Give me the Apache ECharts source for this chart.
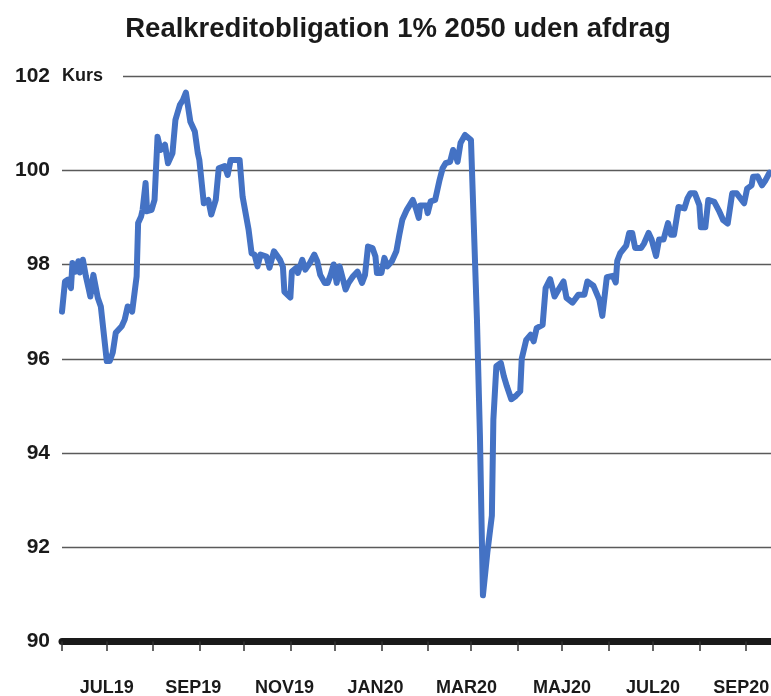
<!DOCTYPE html>
<html><head><meta charset="utf-8">
<script src="https://cdn.jsdelivr.net/npm/echarts@6/dist/echarts.min.js"></script>
<style>html,body{margin:0;padding:0;background:#fff}#c{width:771px;height:696px}</style>
</head><body><div id="c"></div>
<script>
const chartTitle = 'Realkreditobligation 1% 2050 uden afdrag';
const yUnit = 'Kurs';
const dates = [
'2019-06-01','2019-06-03','2019-06-05','2019-06-07','2019-06-08','2019-06-10','2019-06-12','2019-06-13','2019-06-15','2019-06-17',
'2019-06-19','2019-06-20','2019-06-22','2019-06-25','2019-06-27','2019-07-01','2019-07-03','2019-07-05','2019-07-07','2019-07-11',
'2019-07-13','2019-07-15','2019-07-17','2019-07-18','2019-07-21','2019-07-22','2019-07-24','2019-07-25','2019-07-27','2019-07-28',
'2019-07-31','2019-08-02','2019-08-04','2019-08-06','2019-08-09','2019-08-11','2019-08-14','2019-08-16','2019-08-19','2019-08-21',
'2019-08-23','2019-08-26','2019-08-29','2019-08-31','2019-09-01','2019-09-04','2019-09-07','2019-09-09','2019-09-12','2019-09-14',
'2019-09-18','2019-09-20','2019-09-22','2019-09-28','2019-09-30','2019-10-04','2019-10-06','2019-10-08','2019-10-10','2019-10-12',
'2019-10-16','2019-10-18','2019-10-21','2019-10-25','2019-10-27','2019-10-28','2019-11-01','2019-11-02','2019-11-05','2019-11-06',
'2019-11-09','2019-11-11','2019-11-14','2019-11-17','2019-11-19','2019-11-21','2019-11-24','2019-11-26','2019-11-28','2019-11-30',
'2019-12-02','2019-12-04','2019-12-08','2019-12-10','2019-12-13','2019-12-16','2019-12-19','2019-12-21','2019-12-23','2019-12-26',
'2019-12-28','2019-12-29','2020-01-01','2020-01-03','2020-01-05','2020-01-08','2020-01-11','2020-01-13','2020-01-15','2020-01-18',
'2020-01-22','2020-01-24','2020-01-26','2020-01-27','2020-01-31','2020-02-01','2020-02-03','2020-02-06','2020-02-09','2020-02-11',
'2020-02-13','2020-02-16','2020-02-18','2020-02-20','2020-02-21','2020-02-23','2020-02-26','2020-03-01','2020-03-03','2020-03-05',
'2020-03-07','2020-03-09','2020-03-12','2020-03-15','2020-03-16','2020-03-18','2020-03-21','2020-03-23','2020-03-25','2020-03-28',
'2020-03-31','2020-04-03','2020-04-04','2020-04-07','2020-04-10','2020-04-12','2020-04-14','2020-04-18','2020-04-20','2020-04-23',
'2020-04-26','2020-04-28','2020-05-02','2020-05-04','2020-05-08','2020-05-12','2020-05-16','2020-05-18','2020-05-22','2020-05-26',
'2020-05-28','2020-05-31','2020-06-04','2020-06-06','2020-06-07','2020-06-09','2020-06-13','2020-06-15','2020-06-17','2020-06-19',
'2020-06-23','2020-06-25','2020-06-28','2020-06-30','2020-07-03','2020-07-05','2020-07-08','2020-07-11','2020-07-13','2020-07-15',
'2020-07-18','2020-07-22','2020-07-24','2020-07-26','2020-07-29','2020-08-01','2020-08-02','2020-08-05','2020-08-07','2020-08-11',
'2020-08-14','2020-08-17','2020-08-20','2020-08-23','2020-08-26','2020-08-31','2020-09-02','2020-09-05','2020-09-06','2020-09-09',
'2020-09-12','2020-09-14','2020-09-17'
];
const kurs = [
97.0,97.64,97.68,97.5,98.03,97.85,98.07,97.83,98.1,97.75,
97.47,97.32,97.78,97.29,97.11,95.95,95.95,96.13,96.55,96.69,
96.83,97.11,97.08,97.0,97.75,98.88,99.02,99.16,99.73,99.13,
99.16,99.37,100.71,100.43,100.54,100.15,100.36,101.07,101.39,101.49,
101.65,101.03,100.82,100.36,100.22,99.30,99.37,99.06,99.37,100.04,
100.09,99.90,100.22,100.22,99.44,98.74,98.24,98.21,97.96,98.21,
98.17,97.93,98.28,98.1,97.95,97.42,97.3,97.85,97.93,97.82,
98.10,97.89,98.03,98.21,98.07,97.78,97.61,97.61,97.78,98.0,
97.61,97.96,97.47,97.61,97.75,97.85,97.61,97.78,98.38,98.35,
98.17,97.82,97.82,98.14,97.96,98.07,98.28,98.63,98.95,99.16,
99.37,99.20,98.99,99.25,99.25,99.09,99.34,99.37,99.80,100.04,
100.15,100.18,100.43,100.29,100.18,100.58,100.75,100.64,98.73,96.83,
94.36,90.98,91.9,92.67,94.71,95.84,95.91,95.63,95.42,95.14,
95.21,95.31,96.0,96.40,96.51,96.37,96.65,96.72,97.50,97.69,
97.32,97.43,97.64,97.29,97.19,97.36,97.36,97.64,97.55,97.25,
96.91,97.73,97.76,97.62,98.08,98.24,98.40,98.67,98.67,98.35,
98.35,98.45,98.67,98.53,98.18,98.53,98.53,98.88,98.63,98.63,
99.22,99.19,99.40,99.51,99.51,99.26,98.79,98.79,99.37,99.33,
99.15,98.94,98.87,99.51,99.51,99.30,99.61,99.68,99.86,99.87,
99.68,99.77,99.95
];
const yTicks = [90, 92, 94, 96, 98, 100, 102];
const tickMonths = ['2019-06-01','2019-07-01','2019-08-01','2019-09-01','2019-10-01','2019-11-01','2019-12-01','2020-01-01',
  '2020-02-01','2020-03-01','2020-04-01','2020-05-01','2020-06-01','2020-07-01','2020-08-01','2020-09-01'];
const tickLabels = ['JUL19','SEP19','NOV19','JAN20','MAR20','MAJ20','JUL20','SEP20'];
const tickLabelDates = ['2019-07-01','2019-08-28','2019-10-28','2019-12-28','2020-02-27','2020-05-01','2020-07-01','2020-08-29'];
const xStart = '2019-06-01';
const xEnd = '2020-09-18';

const ts = s => { const p = s.split('-').map(Number); return new Date(p[0], p[1]-1, p[2]).getTime(); };
const FONT = "'Liberation Sans', Arial, sans-serif";
const INK = '#1a1a1a';
const labelTs = tickLabelDates.map(ts);

const chart = echarts.init(document.getElementById('c'), null, {renderer: 'canvas'});
chart.setOption({
  backgroundColor: '#ffffff',
  animation: false,
  title: {
    text: chartTitle, left: 393, top: 10, textAlign: 'center',
    textStyle: {fontFamily: FONT, fontWeight: 'bold', fontSize: 27.5, color: INK}
  },
  grid: {left: 62, right: 0, top: 76, bottom: 54.5, containLabel: false, outerBoundsMode: 'none'},
  xAxis: {
    type: 'value',
    min: ts(xStart), max: ts(xEnd),
    axisLine: {onZero: false, lineStyle: {color: INK, width: 7}},
    axisTick: {show: true, length: 9.5, lineStyle: {color: '#333', width: 1.5}, customValues: tickMonths.map(ts)},
    axisLabel: {
      customValues: labelTs, hideOverlap: false, showMinLabel: true, showMaxLabel: true,
      margin: 38, fontFamily: FONT, fontWeight: 'bold', fontSize: 18, color: INK,
      formatter: v => { const i = labelTs.indexOf(v); return i >= 0 ? tickLabels[i] : ''; }
    },
    splitLine: {show: false}
  },
  yAxis: {
    type: 'value', min: yTicks[0], max: yTicks[yTicks.length-1], interval: 2,
    axisLine: {show: false}, axisTick: {show: false},
    axisLabel: {margin: 12, fontFamily: FONT, fontWeight: 'bold', fontSize: 21, color: INK},
    splitLine: {lineStyle: {color: '#5a5a5a', width: 1.3}}
  },
  graphic: [
    {type: 'rect', z: 100, shape: {x: 60, y: 68, width: 63, height: 16}, style: {fill: '#ffffff'}},
    {type: 'text', z: 101, x: 62, y: 76, style: {text: yUnit, fontFamily: FONT, fontWeight: 'bold', fontSize: 18, fill: INK, verticalAlign: 'middle'}}
  ],
  series: [{
    type: 'line',
    data: dates.map((d, i) => [ts(d), kurs[i]]),
    showSymbol: false,
    lineStyle: {color: '#4472C4', width: 6, cap: 'round', join: 'round'},
    clip: false
  }]
});
</script>
</body></html>
